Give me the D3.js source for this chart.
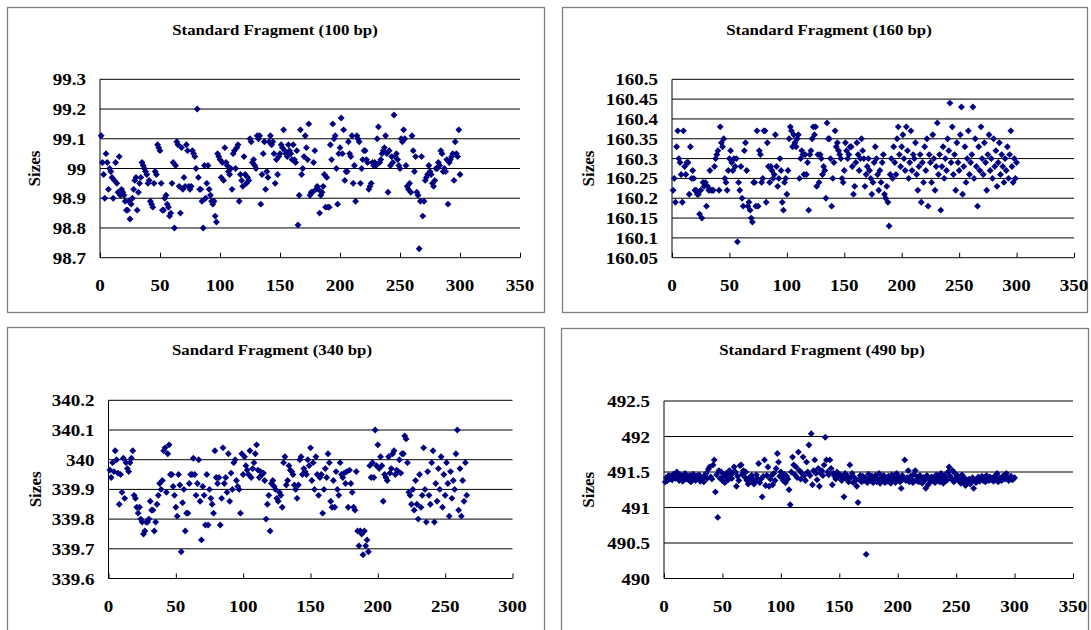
<!DOCTYPE html>
<html>
<head>
<meta charset="utf-8">
<script src="https://cdn.jsdelivr.net/npm/d3@7"></script>
<style>
  body { margin: 0; background: #fff; }
  svg text { font-family: "Liberation Serif", "Times New Roman", serif; font-weight: bold; fill: #000; }
</style>
</head>
<body>
<svg id="chart" width="1091" height="630"></svg>
<script>
// Standard fragment sizes per run (runs numbered 1..N)
var sizes100 = [
  99.11,99.02,98.98,98.90,99.05,99.02,98.93,99.00,98.99,98.97,
  98.90,98.96,99.02,98.95,98.92,99.04,98.91,98.93,98.92,98.91,
  98.89,98.86,98.86,98.89,98.83,98.88,98.90,98.93,98.96,98.97,
  98.86,98.92,98.95,98.97,99.02,99.01,99.00,98.99,98.98,98.95,
  98.96,98.89,98.88,98.87,98.95,98.99,98.98,99.08,99.07,99.06,
  98.95,98.86,98.86,98.90,98.91,98.88,98.87,98.84,98.85,98.95,
  99.02,98.80,99.01,99.09,99.08,98.94,98.85,99.07,98.93,98.97,
  98.94,99.08,99.06,98.94,98.93,98.94,99.06,99.05,99.04,99.00,
  99.20,98.97,98.93,98.93,98.89,98.80,99.01,98.90,98.95,99.01,
  98.93,98.91,98.89,98.88,98.89,98.84,98.82,99.05,99.04,99.03,
  98.97,99.02,98.96,99.07,99.02,99.01,98.99,98.98,99.00,98.93,
  99.05,99.06,99.00,99.07,99.08,98.89,98.98,98.96,98.94,99.04,
  98.98,98.95,98.97,98.96,99.10,99.09,99.02,99.03,99.01,99.00,
  99.11,99.10,99.11,98.88,98.98,99.05,99.09,98.93,98.99,98.97,
  99.09,99.11,99.08,99.09,99.05,98.95,99.03,98.98,99.04,99.05,
  99.08,99.07,99.13,99.06,99.05,99.04,99.08,99.06,99.05,99.03,
  99.08,99.03,99.02,99.06,98.81,98.91,99.13,98.98,99.00,99.04,
  99.11,99.07,99.03,99.15,98.91,98.92,98.92,99.02,99.06,98.93,
  98.94,98.93,98.85,98.91,98.92,98.94,98.98,98.87,98.97,98.87,
  98.87,99.08,99.03,99.15,99.10,99.11,99.00,98.88,99.05,99.07,
  99.17,99.05,99.13,98.96,98.99,98.99,99.09,99.05,99.04,99.11,
  98.95,99.01,98.89,99.11,99.10,99.09,98.95,99.00,99.03,99.06,
  99.06,99.03,99.02,98.93,98.94,98.95,99.02,99.01,99.02,99.01,
  99.10,99.14,99.02,99.03,99.05,99.06,99.07,99.11,99.05,98.92,
  99.06,99.01,99.04,99.02,99.18,99.04,99.05,99.03,99.01,99.00,
  99.10,99.09,99.13,99.10,99.01,98.94,98.93,98.95,98.92,99.11,
  99.06,98.99,99.04,98.92,98.91,98.73,98.89,99.04,98.84,98.89,
  98.96,98.97,98.98,99.01,98.99,98.98,98.95,98.94,98.96,99.00,
  99.00,99.02,99.01,99.06,99.05,98.99,99.00,98.99,99.03,98.88,
  99.02,99.03,99.04,99.05,98.96,99.09,99.05,99.04,99.13,98.98
];
var sizes160 = [
  160.22,160.25,160.19,160.33,160.37,160.30,160.29,160.26,160.19,160.37,
  160.28,160.26,160.29,160.29,160.21,160.33,160.25,160.27,160.25,160.22,
  160.22,160.21,160.21,160.16,160.22,160.15,160.24,160.23,160.24,160.18,
  160.23,160.22,160.27,160.22,160.22,160.22,160.28,160.30,160.31,160.32,
  160.22,160.38,160.34,160.33,160.35,160.25,160.24,160.22,160.27,160.30,
  160.32,160.29,160.27,160.30,160.28,160.30,160.09,160.24,160.22,160.28,
  160.20,160.18,160.32,160.34,160.27,160.18,160.19,160.17,160.15,160.14,
  160.24,160.24,160.18,160.37,160.18,160.32,160.31,160.24,160.25,160.37,
  160.37,160.19,160.34,160.28,160.24,160.28,160.27,160.25,160.26,160.36,
  160.28,160.23,160.25,160.30,160.27,160.19,160.17,160.24,160.25,160.21,
  160.27,160.35,160.38,160.37,160.33,160.36,160.34,160.33,160.35,160.36,
  160.25,160.30,160.32,160.31,160.26,160.31,160.26,160.29,160.17,160.31,
  160.32,160.35,160.38,160.36,160.38,160.23,160.31,160.24,160.31,160.30,
  160.26,160.28,160.27,160.20,160.39,160.35,160.35,160.30,160.18,160.25,
  160.29,160.37,160.33,160.34,160.32,160.31,160.30,160.25,160.24,160.27,
  160.34,160.32,160.30,160.31,160.33,160.33,160.28,160.21,160.23,160.29,
  160.34,160.31,160.27,160.30,160.35,160.32,160.30,160.23,160.26,160.28,
  160.30,160.27,160.25,160.21,160.24,160.29,160.33,160.30,160.26,160.22,
  160.27,160.24,160.29,160.31,160.21,160.20,160.23,160.19,160.13,160.26,
  160.30,160.25,160.33,160.29,160.26,160.35,160.38,160.31,160.28,160.33,
  160.36,160.30,160.27,160.38,160.32,160.25,160.29,160.37,160.27,160.31,
  160.30,160.34,160.26,160.22,160.28,160.31,160.19,160.29,160.24,160.33,
  160.27,160.35,160.18,160.31,160.29,160.24,160.36,160.30,160.22,160.28,
  160.39,160.26,160.31,160.17,160.28,160.33,160.25,160.30,160.27,160.35,
  160.32,160.44,160.29,160.38,160.26,160.31,160.22,160.34,160.29,160.27,
  160.36,160.43,160.21,160.28,160.33,160.24,160.30,160.37,160.26,160.29,
  160.31,160.43,160.25,160.35,160.28,160.18,160.33,160.27,160.38,160.30,
  160.26,160.34,160.29,160.22,160.31,160.36,160.27,160.30,160.25,160.35,
  160.28,160.32,160.23,160.29,160.34,160.26,160.31,160.28,160.24,160.30,
  160.27,160.33,160.25,160.31,160.37,160.28,160.24,160.30,160.25,160.29
];
var sizes340 = [
  339.965,339.94,339.99,339.96,340.03,340.00,339.955,339.85,339.95,339.89,
  340.005,339.87,339.99,339.97,339.96,339.99,340.005,340.03,339.88,339.87,
  339.84,339.82,339.84,339.80,339.79,339.75,339.76,339.79,339.79,339.80,
  339.86,339.83,339.83,339.76,339.79,339.85,339.88,339.92,339.90,339.93,
  340.03,340.04,339.89,340.02,340.05,339.95,339.95,339.91,339.88,339.84,
  339.81,339.95,339.915,339.69,339.855,339.90,339.76,339.82,339.82,339.92,
  339.95,339.95,340.005,339.95,339.88,339.92,340.00,339.86,339.73,339.91,
  339.88,339.78,339.95,339.78,339.90,339.87,339.85,339.82,340.03,339.94,
  339.92,339.94,339.78,339.87,340.04,339.92,339.94,339.89,340.02,339.86,
  339.955,339.90,339.99,340.00,339.93,339.91,339.90,339.82,340.02,339.95,
  340.01,339.98,339.965,339.95,340.03,339.94,339.97,339.99,340.02,340.05,
  339.965,339.94,339.96,339.95,339.955,339.93,339.80,339.85,339.88,339.76,
  339.92,339.93,339.91,339.90,339.87,339.86,339.89,339.88,339.84,339.99,
  340.01,339.915,339.93,339.98,339.965,339.96,339.95,339.915,339.90,339.87,
  339.915,340.00,340.01,339.95,339.97,339.96,339.95,340.00,339.98,340.04,
  339.93,339.99,339.90,340.01,339.95,339.88,339.94,339.95,339.82,339.90,
  339.97,339.94,340.02,339.99,339.86,339.84,339.93,339.84,339.96,339.90,
  339.88,339.99,339.95,339.94,339.955,339.92,339.96,339.84,339.965,339.92,
  339.89,339.84,339.83,339.96,339.76,339.71,339.76,339.75,339.68,339.76,
  339.71,339.73,339.69,339.98,339.94,339.99,339.94,340.10,339.98,340.05,
  339.97,340.01,339.98,339.86,339.95,339.94,339.93,340.01,339.955,339.97,
  340.02,340.03,339.95,339.965,339.96,340.00,339.955,340.02,340.02,340.08,
  340.07,339.99,339.89,339.88,339.85,339.90,339.83,339.93,339.85,339.80,
  339.95,339.84,339.88,340.04,339.90,339.79,339.96,339.88,339.85,339.99,
  340.03,339.79,339.92,339.86,339.97,339.90,340.01,339.84,339.95,339.88,
  339.99,339.92,339.81,339.96,339.87,339.93,339.90,340.02,340.10,339.83,
  339.97,339.81,339.93,339.86,339.99,339.88
];
var sizes490 = [
  491.36,491.42,491.38,491.45,491.40,491.44,491.39,491.47,491.42,491.41,
  491.50,491.43,491.38,491.46,491.41,491.37,491.44,491.48,491.40,491.42,
  491.39,491.45,491.36,491.43,491.47,491.40,491.38,491.44,491.41,491.46,
  491.37,491.42,491.40,491.36,491.45,491.48,491.41,491.54,491.57,491.43,
  491.40,491.60,491.67,491.22,491.46,490.86,491.52,491.41,491.50,491.38,
  491.44,491.35,491.48,491.42,491.39,491.52,491.46,491.41,491.49,491.57,
  491.50,491.30,491.44,491.38,491.59,491.60,491.47,491.52,491.43,491.50,
  491.38,491.33,491.42,491.36,491.45,491.40,491.33,491.37,491.46,491.41,
  491.62,491.35,491.40,491.15,491.44,491.67,491.31,491.45,491.57,491.30,
  491.40,491.45,491.32,491.48,491.38,491.55,491.76,491.64,491.44,491.50,
  491.42,491.38,491.47,491.35,491.44,491.40,491.25,491.04,491.50,491.71,
  491.60,491.46,491.57,491.42,491.78,491.52,491.40,491.48,491.71,491.45,
  491.38,491.64,491.50,491.88,491.45,492.04,491.32,491.52,491.67,491.48,
  491.39,491.55,491.30,491.48,491.52,491.45,491.60,491.99,491.67,491.50,
  491.46,491.67,491.55,491.32,491.48,491.44,491.40,491.50,491.43,491.47,
  491.45,491.38,491.42,491.15,491.48,491.40,491.44,491.36,491.60,491.42,
  491.48,491.35,491.42,491.38,491.30,491.07,491.40,491.45,491.36,491.44,
  491.38,491.42,490.34,491.35,491.47,491.40,491.38,491.44,491.35,491.41,
  491.45,491.36,491.40,491.48,491.34,491.42,491.38,491.45,491.35,491.40,
  491.37,491.44,491.40,491.34,491.46,491.38,491.42,491.35,491.48,491.40,
  491.43,491.36,491.27,491.45,491.40,491.67,491.38,491.42,491.52,491.36,
  491.44,491.40,491.35,491.47,491.52,491.38,491.43,491.36,491.45,491.40,
  491.34,491.42,491.38,491.27,491.45,491.32,491.40,491.36,491.43,491.38,
  491.41,491.35,491.46,491.39,491.43,491.36,491.48,491.40,491.34,491.45,
  491.42,491.38,491.50,491.57,491.44,491.40,491.52,491.36,491.48,491.42,
  491.45,491.38,491.40,491.34,491.46,491.36,491.42,491.31,491.38,491.35,
  491.40,491.33,491.37,491.42,491.27,491.38,491.35,491.40,491.43,491.37,
  491.40,491.44,491.38,491.42,491.36,491.45,491.40,491.38,491.43,491.39,
  491.41,491.37,491.44,491.39,491.48,491.36,491.42,491.40,491.38,491.44,
  491.45,491.40,491.48,491.42,491.38,491.41,491.44,491.39,491.40,491.42
];

// Tick labels
var xTicks350 = [0, 50, 100, 150, 200, 250, 300, 350];
var xTicks300 = [0, 50, 100, 150, 200, 250, 300];
var yTicks100 = ["98.7", "98.8", "98.9", "99", "99.1", "99.2", "99.3"];
var yTicks160 = ["160.05", "160.1", "160.15", "160.2", "160.25", "160.3", "160.35", "160.4", "160.45", "160.5"];
var yTicks340 = ["339.6", "339.7", "339.8", "339.9", "340", "340.1", "340.2"];
var yTicks490 = ["490", "490.5", "491", "491.5", "492", "492.5"];

var titles = ["Standard Fragment (100 bp)", "Standard Fragment (160 bp)",
              "Sandard Fragment (340 bp)", "Standard Fragment (490 bp)"];
var yAxisTitle = "Sizes";

var svg = d3.select("#chart");
var markerColor = "#000080";

// Layout of the four panels
var panels = [
  { frame: [7, 7, 537, 305], left: 100, right: 520, top: 79.3, bottom: 257.7,
    xTicks: xTicks350, yTicks: yTicks100, values: sizes100, title: titles[0], titleX: 275, titleY: 35, sizesX: 40 },
  { frame: [562, 7, 525, 305], left: 672, right: 1074, top: 79.3, bottom: 257.7,
    xTicks: xTicks350, yTicks: yTicks160, values: sizes160, title: titles[1], titleX: 829, titleY: 35, sizesX: 594 },
  { frame: [7, 327, 537, 320], left: 108.5, right: 512.5, top: 400.3, bottom: 578.5,
    xTicks: xTicks300, yTicks: yTicks340, values: sizes340, title: titles[2], titleX: 272, titleY: 355, sizesX: 41 },
  { frame: [561, 328, 527, 320], left: 664, right: 1073, top: 401, bottom: 578.5,
    xTicks: xTicks350, yTicks: yTicks490, values: sizes490, title: titles[3], titleX: 822, titleY: 355, sizesX: 594 }
];

// text slightly widened like the stretched original
function label(g, x, y, txt, size, anchor, sx) {
  return g.append("text")
    .attr("transform", "translate(" + x + "," + y + ") scale(" + sx + ",1)")
    .attr("text-anchor", anchor).attr("font-size", size)
    .text(txt);
}

panels.forEach(function (p) {
  var g = svg.append("g");

  // outer chart frame
  g.append("rect")
    .attr("x", p.frame[0] + 0.5).attr("y", p.frame[1] + 0.5)
    .attr("width", p.frame[2]).attr("height", p.frame[3])
    .attr("fill", "#fff").attr("stroke", "#7f7f7f").attr("stroke-width", 1.3);

  var yNums = p.yTicks.map(Number);
  var x = d3.scaleLinear()
    .domain([p.xTicks[0], p.xTicks[p.xTicks.length - 1]])
    .range([p.left, p.right]);
  var y = d3.scaleLinear()
    .domain([d3.min(yNums), d3.max(yNums)])
    .range([p.bottom, p.top]);

  // gridlines
  g.selectAll(".grid").data(yNums.slice(1)).enter().append("line")
    .attr("x1", p.left).attr("x2", p.right)
    .attr("y1", d => y(d)).attr("y2", d => y(d))
    .attr("stroke", "#000").attr("stroke-width", 1);

  // x axis with inward ticks
  var xAxis = d3.axisBottom(x).tickValues(p.xTicks).tickSize(-5).tickFormat("");
  var xg = g.append("g").attr("transform", "translate(0," + p.bottom + ")").call(xAxis);
  xg.select(".domain").attr("stroke", "#000").attr("d", "M" + p.left + ",0H" + p.right);
  xg.selectAll(".tick line").attr("stroke", "#000");

  p.xTicks.forEach(function (t) {
    label(g, x(t), p.bottom + 33, t, 17, "middle", 1.12);
  });

  // y axis line
  g.append("line")
    .attr("x1", p.left).attr("x2", p.left)
    .attr("y1", p.top).attr("y2", p.bottom)
    .attr("stroke", "#000");

  p.yTicks.forEach(function (t) {
    label(g, p.left - 14, y(+t) + 6, t, 17, "end", 1.12);
  });

  // titles
  label(g, p.titleX, p.titleY, p.title, 15, "middle", 1.12);

  g.append("text")
    .attr("transform", "translate(" + p.sizesX + "," + ((p.top + p.bottom) / 2) + ") rotate(-90)")
    .attr("text-anchor", "middle").attr("font-size", 17)
    .text(yAxisTitle);

  // diamonds
  var diamond = d3.symbol().type(d3.symbolDiamond2).size(30);
  g.selectAll(".pt").data(p.values).enter().append("path")
    .attr("d", diamond)
    .attr("transform", (d, i) => "translate(" + x(i + 1) + "," + y(d) + ")")
    .attr("fill", markerColor);
});
</script>
</body>
</html>
